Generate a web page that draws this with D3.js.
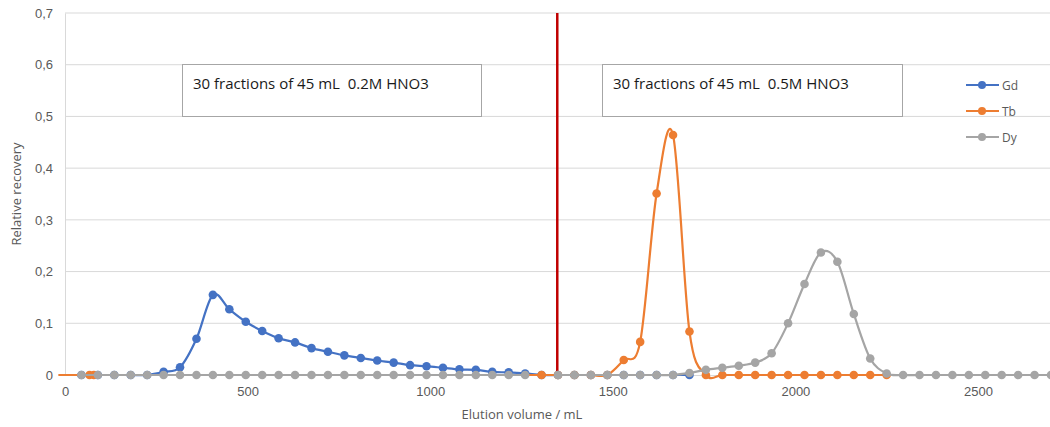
<!DOCTYPE html>
<html>
<head>
<meta charset="utf-8">
<script src="https://cdn.jsdelivr.net/npm/d3@7"></script>
<style>
  html, body { margin: 0; padding: 0; background: #fff; }
  svg { display: block; font-family: "Open Sans", "Noto Sans", sans-serif; }
</style>
</head>
<body>
<div id="chart" style="width:1050px;height:427px"></div>
<script>
// Fraction volumes (mL) shared by Gd and Dy
const volume = [45, 90, 135, 180, 225, 270, 315, 360, 405, 450,
  495, 540, 585, 630, 675, 720, 765, 810, 855, 900,
  945, 990, 1035, 1080, 1125, 1170, 1215, 1260, 1305, 1350,
  1395, 1440, 1485, 1530, 1575, 1620, 1665, 1710, 1755, 1800,
  1845, 1890, 1935, 1980, 2025, 2070, 2115, 2160, 2205, 2250,
  2295, 2340, 2385, 2430, 2475, 2520, 2565, 2610, 2655, 2700];

const gd = [0, 0, 0, 0, 0, 0.006, 0.015, 0.070, 0.155, 0.127,
  0.103, 0.085, 0.071, 0.063, 0.052, 0.045, 0.038, 0.033, 0.028, 0.024,
  0.019, 0.017, 0.014, 0.011, 0.010, 0.006, 0.005, 0.003, 0, 0,
  0, 0, 0, 0, 0, 0, 0, 0, null, null,
  null, null, null, null, null, null, null, null, null, null,
  null, null, null, null, null, null, null, null, null, null];

const dy = [0, 0, 0, 0, 0, 0, 0, 0, 0, 0,
  0, 0, 0, 0, 0, 0, 0, 0, 0, 0,
  0, 0, 0, 0, 0, 0, 0, 0, null, 0,
  0, 0, 0, 0, 0, 0, 0, 0.004, 0.010, 0.014,
  0.018, 0.024, 0.042, 0.100, 0.176, 0.237, 0.219, 0.118, 0.032, 0.003,
  0, 0, 0, 0, 0, 0, 0, 0, 0, 0];

// Tb was logged on its own volumes
const tbVolume = [67, 79, 1305, 1350, 1395, 1440, 1485, 1530, 1575, 1620,
  1665, 1710, 1755, 1800, 1845, 1890, 1935, 1980, 2025, 2070,
  2115, 2160, 2205, 2250];
const tb = [0, 0, 0, 0, 0, 0, 0, 0.029, 0.064, 0.351,
  0.464, 0.084, 0, 0, 0, 0, 0, 0, 0, 0,
  0, 0, 0, 0];

const xTicks = [0, 500, 1000, 1500, 2000, 2500];
const yTicks = [0, 0.1, 0.2, 0.3, 0.4, 0.5, 0.6, 0.7];
const eluentSwitch = 1348;
const boxLabels = ["30 fractions of 45 mL  0.2M HNO3", "30 fractions of 45 mL  0.5M HNO3"];

const series = [
  { name: "Gd", color: "#4472C4", points: volume.map((v, i) => ({ x: v, y: gd[i] })) },
  { name: "Tb", color: "#ED7D31", points: tbVolume.map((v, i) => ({ x: v, y: tb[i] })) },
  { name: "Dy", color: "#A5A5A5", points: volume.map((v, i) => ({ x: v, y: dy[i] })) }
];

const width = 1050, height = 427;
const margin = { top: 13, right: 0, bottom: 52, left: 65 };

const svg = d3.select("#chart").append("svg")
  .attr("width", width)
  .attr("height", height);

const x = d3.scaleLinear().domain([0, 2700]).range([margin.left, 1051]);
const y = d3.scaleLinear().domain([0, 0.7]).range([height - margin.bottom, margin.top]);

// Gridlines
svg.append("g")
  .selectAll("line")
  .data(yTicks.slice(1))
  .enter().append("line")
  .attr("x1", margin.left).attr("x2", width)
  .attr("y1", d => y(d)).attr("y2", d => y(d))
  .attr("stroke", "#D9D9D9").attr("stroke-width", 1);

// Axes
const fmt = d => d === 0 ? "0" : d3.format(".1f")(d).replace(".", ",");
const yAxis = svg.append("g")
  .attr("transform", `translate(${margin.left},0)`)
  .call(d3.axisLeft(y).tickValues(yTicks).tickSize(0).tickPadding(12).tickFormat(fmt));
yAxis.select(".domain").attr("stroke", "#D9D9D9");
yAxis.selectAll("text").attr("fill", "#595959").attr("font-size", "13px");

const xAxis = svg.append("g")
  .attr("transform", `translate(0,${y(0)})`)
  .call(d3.axisBottom(x).tickValues(xTicks).tickSize(0).tickPadding(12).tickFormat(d3.format("d")));
xAxis.select(".domain").attr("stroke", "#D9D9D9");
xAxis.selectAll("text").attr("fill", "#595959").attr("font-size", "13px");

// Axis titles
svg.append("text")
  .attr("x", 522).attr("y", 419)
  .attr("text-anchor", "middle")
  .attr("font-size", "13px").attr("fill", "#595959")
  .text("Elution volume / mL");

svg.append("text")
  .attr("transform", "translate(21,194) rotate(-90)")
  .attr("text-anchor", "middle")
  .attr("font-size", "13px").attr("fill", "#595959")
  .text("Relative recovery");

// Eluent change marker
svg.append("line")
  .attr("x1", x(eluentSwitch)).attr("x2", x(eluentSwitch))
  .attr("y1", y(0.7)).attr("y2", y(0))
  .attr("stroke", "#C00000").attr("stroke-width", 2.5);

// Series lines and markers
const line = d3.line()
  .defined(d => d.y !== null)
  .x(d => x(d.x))
  .y(d => y(d.y))
  .curve(d3.curveCatmullRom.alpha(0));

series.forEach(s => {
  svg.append("path")
    .datum(s.points)
    .attr("fill", "none")
    .attr("stroke", s.color)
    .attr("stroke-width", 2.2)
    .attr("d", line);

  svg.append("g")
    .selectAll("circle")
    .data(s.points.filter(d => d.y !== null))
    .enter().append("circle")
    .attr("cx", d => x(d.x))
    .attr("cy", d => y(d.y))
    .attr("r", 4.3)
    .attr("fill", s.color);
});

// Annotation boxes
const boxes = [
  { x0: 182, x1: 481, label: boxLabels[0] },
  { x0: 602, x1: 902, label: boxLabels[1] }
];
boxes.forEach(b => {
  svg.append("rect")
    .attr("x", b.x0 + 0.5).attr("y", 64.5)
    .attr("width", b.x1 - b.x0).attr("height", 52)
    .attr("fill", "#fff")
    .attr("stroke", "#A6A6A6").attr("stroke-width", 1);
  svg.append("text")
    .attr("x", b.x0 + 11).attr("y", 89)
    .attr("font-size", "15px").attr("fill", "#1a1a1a")
    .style("white-space", "pre")
    .text(b.label);
});

// Legend
const legend = svg.append("g").attr("transform", "translate(966,85)");
series.forEach((s, i) => {
  const g = legend.append("g").attr("transform", `translate(0,${i * 26})`);
  g.append("line").attr("x1", 0).attr("x2", 33).attr("y1", 0).attr("y2", 0)
    .attr("stroke", s.color).attr("stroke-width", 2.2);
  g.append("circle").attr("cx", 16).attr("cy", 0).attr("r", 4).attr("fill", s.color);
  g.append("text").attr("x", 36).attr("y", 4.5)
    .attr("font-size", "12px").attr("fill", "#595959")
    .text(s.name);
});
</script>
</body>
</html>
